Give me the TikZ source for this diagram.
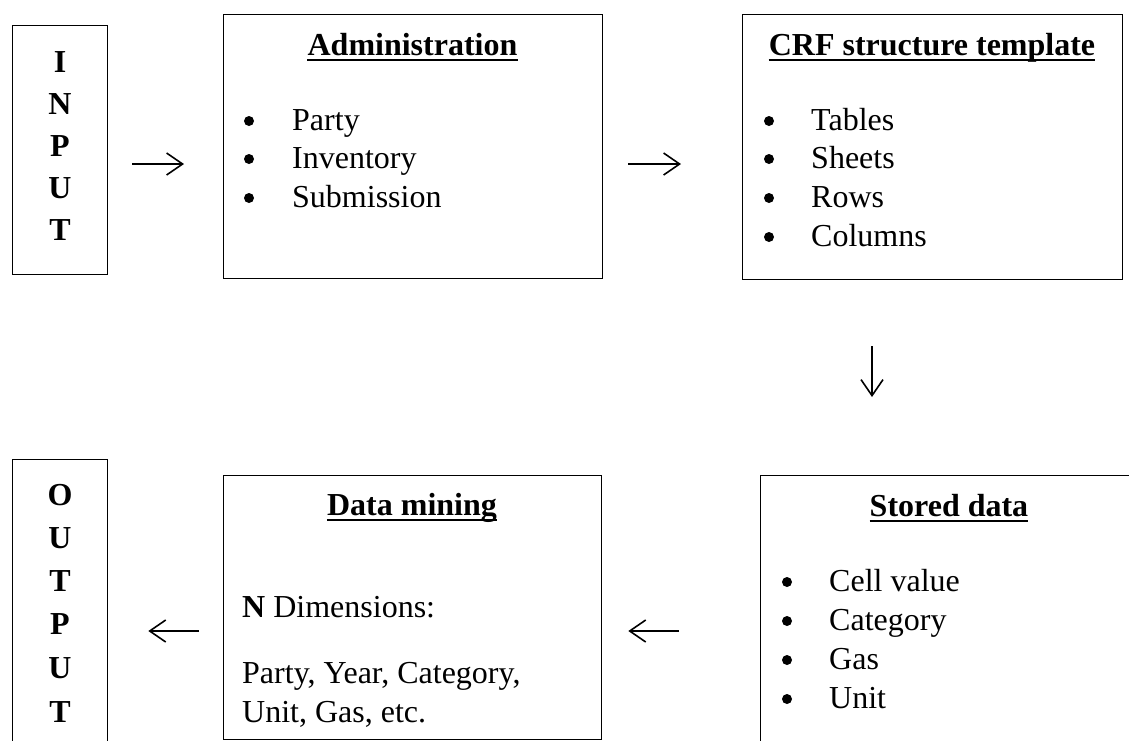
\documentclass[tikz,border=0pt]{standalone}
\usepackage{fontspec}
\setmainfont{Liberation Serif}
\usetikzlibrary{arrows.meta}
\begin{document}
\begin{tikzpicture}[x=1pt,y=-1pt,
  box/.style={draw, line width=1.3pt, anchor=north west, inner sep=0pt},
  txt/.style={inner sep=0pt, font=\fontsize{32}{38}\selectfont},
  ttl/.style={inner sep=0pt, font=\fontsize{32}{38}\selectfont\bfseries, anchor=base},
  item/.style={txt, anchor=base west},
  bul/.style={circle, fill, inner sep=0pt, minimum size=10pt},
  uline/.style={line width=1.8pt},
  arr/.style={line width=1.6pt, -{Straight Barb[length=16pt,width=22pt]}}]
\useasboundingbox (0,0) rectangle (1129,740);
\fill[white] (0,0) rectangle (1129,740);
\clip (0,0) rectangle (1129,740);

% boxes
\node[box, minimum width=95pt, minimum height=249pt] (input) at (12,25) {};
\node[box, minimum width=379pt, minimum height=264pt] (admin) at (223,14) {};
\node[box, minimum width=380pt, minimum height=265pt] (crf) at (742,14) {};
\node[box, minimum width=95pt, minimum height=300pt] (output) at (12,459) {};
\node[box, minimum width=378pt, minimum height=264pt] (mining) at (223,475) {};
\node[box, minimum width=378pt, minimum height=300pt] (stored) at (760,475) {};

% INPUT / OUTPUT letters
\foreach \l/\y [count=\i] in {I/72,N/114,P/156,U/198,T/240}
  \node[ttl] (in\i) at (60,\y) {\l};
\foreach \l/\y [count=\i] in {O/505,U/548,T/591,P/634,U/678,T/722}
  \node[ttl] (out\i) at (60,\y) {\l};

% titles
\node[ttl] (t1) at (412.5,55) {Administration};
\node[ttl] (t2) at (932,55) {CRF structure template};
\node[ttl] (t3) at (949,516) {Stored data};
\node[ttl] (t4) at (412,515) {Data mining};
\foreach \t in {t1,t2,t3,t4}
  \draw[uline] ([yshift=-5pt]\t.base west) -- ([yshift=-5pt]\t.base east);

% Administration items
\foreach \s/\y [count=\i] in {Party/130,Inventory/168,Submission/207}{
  \node[bul] (ab\i) at (249,\y-9) {};
  \node[item] (ai\i) at (292,\y) {\s};
}
% CRF items
\foreach \s/\y [count=\i] in {Tables/130,Sheets/168,Rows/207,Columns/246}{
  \node[bul] (cb\i) at (769,\y-9) {};
  \node[item] (ci\i) at (811,\y) {\s};
}
% Stored data items
\foreach \s/\y [count=\i] in {Cell value/591,Category/630,Gas/669,Unit/708}{
  \node[bul] (sb\i) at (787,\y-9) {};
  \node[item] (si\i) at (829,\y) {\s};
}
% Data mining text
\node[item] (m1) at (242,617) {\textbf{N} Dimensions:};
\node[item] (m2) at (242,683) {Party, Year, Category,};
\node[item] (m3) at (242,722) {Unit, Gas, etc.};

% connectors
\coordinate (row1) at (0,164);
\coordinate (row2) at (0,631);
\coordinate (col1) at (872,0);
\draw[arr, shorten <=24pt, shorten >=39pt] (input.east |- row1) -- (admin.west |- row1);
\draw[arr, shorten <=25pt, shorten >=61pt] (admin.east |- row1) -- (crf.west |- row1);
\draw[arr, shorten <=66pt, shorten >=78pt] (crf.south -| col1) -- (stored.north -| col1);
\draw[arr, shorten <=81pt, shorten >=26pt] (stored.west |- row2) -- (mining.east |- row2);
\draw[arr, shorten <=24pt, shorten >=40pt] (mining.west |- row2) -- (output.east |- row2);
\end{tikzpicture}
\end{document}
